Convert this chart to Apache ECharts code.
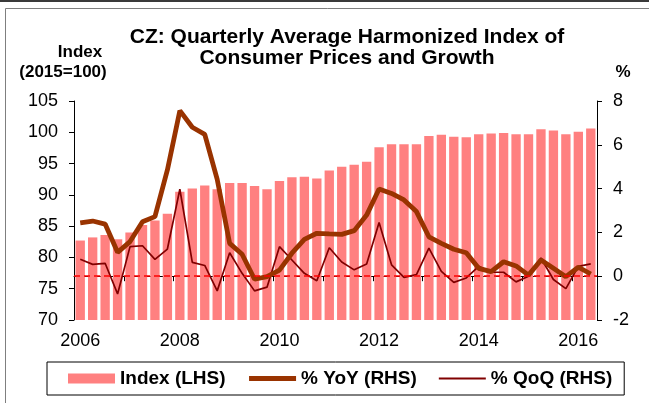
<!DOCTYPE html>
<html>
<head>
<meta charset="utf-8">
<script src="https://cdn.jsdelivr.net/npm/echarts@6/dist/echarts.min.js"></script>
<style>
  html, body { margin: 0; padding: 0; background: #fff; }
  #chartdata { width: 649px; height: 403px; }
</style>
</head>
<body>
<div id="chartdata"></div>
<script>
// quarters 2006Q1 .. 2016Q2
var quarters = [
  '2006Q1', '2006Q2', '2006Q3', '2006Q4', '2007Q1', '2007Q2', '2007Q3', '2007Q4',
  '2008Q1', '2008Q2', '2008Q3', '2008Q4', '2009Q1', '2009Q2', '2009Q3', '2009Q4',
  '2010Q1', '2010Q2', '2010Q3', '2010Q4', '2011Q1', '2011Q2', '2011Q3', '2011Q4',
  '2012Q1', '2012Q2', '2012Q3', '2012Q4', '2013Q1', '2013Q2', '2013Q3', '2013Q4',
  '2014Q1', '2014Q2', '2014Q3', '2014Q4', '2015Q1', '2015Q2', '2015Q3', '2015Q4',
  '2016Q1', '2016Q2'
]
// index (2015=100), LHS
var indexVal = [
  82.7, 83.2, 83.6, 82.9, 84.0, 85.2, 85.9, 87.0,
  90.5, 91.0, 91.5, 90.9, 91.9, 91.9, 91.4, 90.9,
  92.2, 92.8, 92.9, 92.6, 93.9, 94.5, 94.8, 95.3,
  97.6, 98.1, 98.1, 98.1, 99.4, 99.6, 99.3, 99.2,
  99.7, 99.8, 99.9, 99.7, 99.7, 100.5, 100.3, 99.7,
  100.1, 100.6
]
// % YoY, RHS
var yoyVal = [
  2.44, 2.52, 2.38, 1.09, 1.58, 2.49, 2.72, 4.85,
  7.56, 6.80, 6.48, 4.42, 1.50, 1.00, -0.14, -0.02,
  0.28, 1.05, 1.68, 1.96, 1.93, 1.91, 2.08, 2.79,
  3.98, 3.78, 3.48, 2.95, 1.80, 1.50, 1.23, 1.07,
  0.36, 0.21, 0.66, 0.47, 0.05, 0.74, 0.36, -0.02,
  0.41, 0.10
]
// % QoQ, RHS
var qoqVal = [
  0.77, 0.54, 0.59, -0.81, 1.35, 1.39, 0.77, 1.24,
  3.97, 0.63, 0.49, -0.67, 1.07, 0.13, -0.67, -0.50,
  1.35, 0.74, 0.13, -0.21, 1.30, 0.65, 0.29, 0.56,
  2.45, 0.52, -0.05, 0.07, 1.28, 0.22, -0.28, -0.08,
  0.45, 0.18, 0.18, -0.26, 0.00, 0.83, -0.15, -0.57,
  0.45, 0.56
]
var leftTicks = { min: 70, max: 105, interval: 5 }
var rightTicks = { min: -2, max: 8, interval: 2 }

var FONT = 'Liberation Sans, Arial, sans-serif'
var chart = echarts.init(document.getElementById('chartdata'), null, { renderer: 'canvas' })

var option = {
  animation: false,
  backgroundColor: '#fff',
  graphic: [
    // frame
    { type: 'rect', shape: { x: 0, y: 0, width: 649, height: 2 }, style: { fill: '#3a3a3a' } },
    { type: 'line', shape: { x1: 5.5, y1: 8.5, x2: 5.5, y2: 403 }, style: { stroke: '#7f7f7f', lineWidth: 1 } },
    { type: 'line', shape: { x1: 5.5, y1: 8.5, x2: 649, y2: 8.5 }, style: { stroke: '#7f7f7f', lineWidth: 1 } },
    // title
    {
      type: 'text', x: 347, y: 37,
      style: { text: 'CZ: Quarterly Average Harmonized Index of', font: 'bold 21px ' + FONT, fill: '#000', align: 'center', verticalAlign: 'middle' }
    },
    {
      type: 'text', x: 347, y: 58,
      style: { text: 'Consumer Prices and Growth', font: 'bold 21px ' + FONT, fill: '#000', align: 'center', verticalAlign: 'middle' }
    },
    // axis names
    {
      type: 'text', x: 80, y: 52,
      style: { text: 'Index', font: 'bold 17px ' + FONT, fill: '#000', align: 'center', verticalAlign: 'middle' }
    },
    {
      type: 'text', x: 63, y: 72,
      style: { text: '(2015=100)', font: 'bold 17px ' + FONT, fill: '#000', align: 'center', verticalAlign: 'middle' }
    },
    {
      type: 'text', x: 623, y: 72,
      style: { text: '%', font: 'bold 17px ' + FONT, fill: '#000', align: 'center', verticalAlign: 'middle' }
    }
  ],
  legend: {
    left: 47,
    top: 362,
    padding: [7, 12, 7, 21],
    borderColor: '#000',
    borderWidth: 1,
    itemWidth: 47,
    itemHeight: 10,
    itemGap: 21,
    textStyle: { fontFamily: FONT, fontWeight: 'bold', fontSize: 19, color: '#000' },
    data: [
      { name: 'Index (LHS)', icon: 'rect' },
      { name: '% YoY (RHS)', itemStyle: { opacity: 0 }, lineStyle: { width: 5, color: '#993300' } },
      { name: '% QoQ (RHS)', itemStyle: { opacity: 0 }, lineStyle: { width: 2, color: '#800000' } }
    ]
  },
  grid: {
    left: 74,
    right: 52,
    top: 101,
    bottom: 83,
    containLabel: false
  },
  xAxis: {
    type: 'category',
    data: quarters,
    boundaryGap: true,
    axisLine: { lineStyle: { color: '#000', width: 1 } },
    axisTick: { show: true, interval: 3, length: 5, lineStyle: { color: '#000' } },
    axisLabel: {
      interval: 7,
      margin: 12,
      fontFamily: FONT,
      fontSize: 18,
      color: '#000',
      formatter: function (v) { return v.slice(0, 4) }
    },
    splitLine: { show: false }
  },
  yAxis: [
    {
      type: 'value',
      min: leftTicks.min,
      max: leftTicks.max,
      interval: leftTicks.interval,
      axisLine: { show: true, lineStyle: { color: '#000' } },
      axisTick: { show: true, length: 5, lineStyle: { color: '#000' } },
      axisLabel: { margin: 16, fontFamily: FONT, fontSize: 18, color: '#000' },
      splitLine: { show: false }
    },
    {
      type: 'value',
      position: 'right',
      min: rightTicks.min,
      max: rightTicks.max,
      interval: rightTicks.interval,
      axisLine: { show: true, lineStyle: { color: '#000' } },
      axisTick: { show: true, length: 5, lineStyle: { color: '#000' } },
      axisLabel: { margin: 16, fontFamily: FONT, fontSize: 18, color: '#000' },
      splitLine: { show: false }
    }
  ],
  series: [
    {
      name: 'Index (LHS)',
      type: 'bar',
      yAxisIndex: 0,
      barWidth: '75%',
      itemStyle: { color: '#ff8080' },
      data: indexVal
    },
    {
      name: '% YoY (RHS)',
      type: 'line',
      yAxisIndex: 1,
      symbol: 'none',
      z: 4,
      lineStyle: { color: '#993300', width: 4.8 },
      itemStyle: { color: '#993300' },
      data: yoyVal,
      markLine: {
        silent: true,
        symbol: 'none',
        label: { show: false },
        lineStyle: { color: '#ff0000', type: [6, 4], width: 1.5 },
        data: [{ yAxis: 0 }]
      }
    },
    {
      name: '% QoQ (RHS)',
      type: 'line',
      yAxisIndex: 1,
      symbol: 'none',
      z: 3,
      lineStyle: { color: '#800000', width: 1.7 },
      itemStyle: { color: '#800000' },
      data: qoqVal
    }
  ]
}
chart.setOption(option)
</script>
</body>
</html>
